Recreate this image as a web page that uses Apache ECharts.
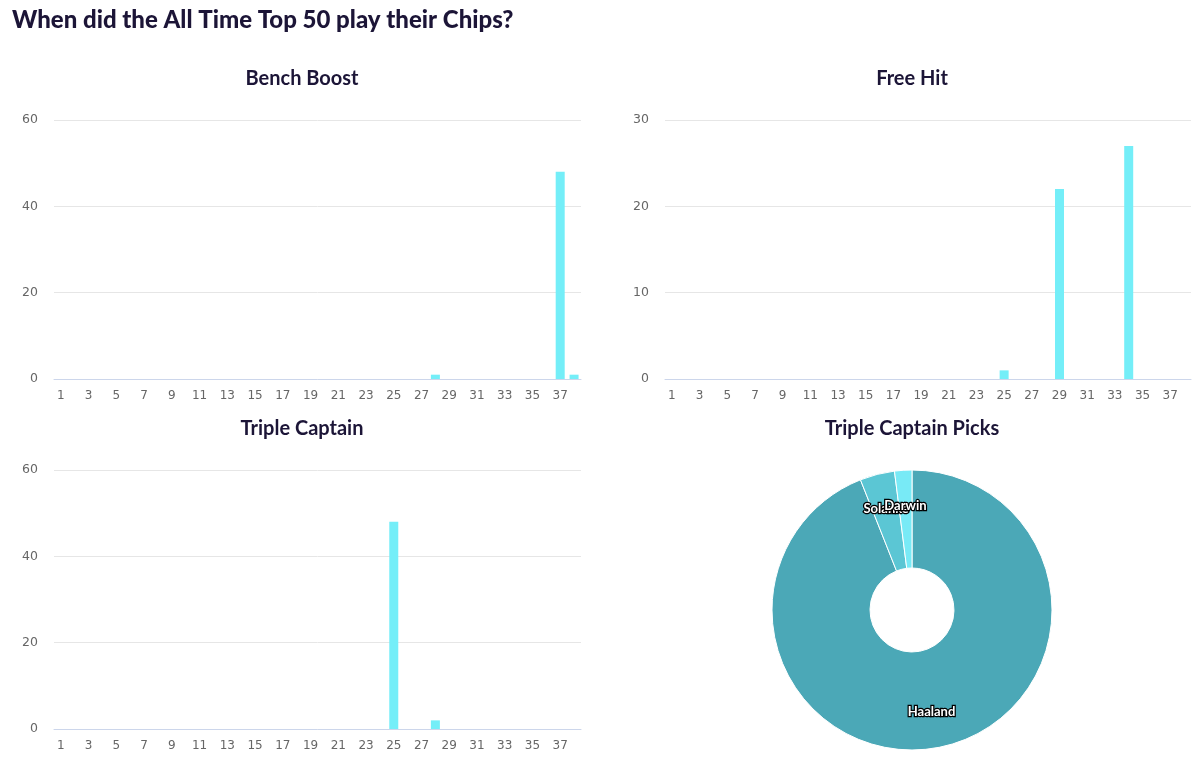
<!DOCTYPE html>
<html><head><meta charset="utf-8">
<script src="https://cdn.jsdelivr.net/npm/echarts@6/dist/echarts.min.js"></script>
<style>html,body{margin:0;padding:0;background:#fff}#c{width:1200px;height:769px}</style>
</head><body><div id="c"></div>
<script>
const gameweeks = Array.from({length: 38}, (_, i) => String(i + 1));
const benchBoost = [0,0,0,0,0,0,0,0,0,0,0,0,0,0,0,0,0,0,0,0,0,0,0,0,0,0,0,1,0,0,0,0,0,0,0,0,48,1];
const freeHit    = [0,0,0,0,0,0,0,0,0,0,0,0,0,0,0,0,0,0,0,0,0,0,0,0,1,0,0,0,22,0,0,0,0,27,0,0,0,0];
const tripleCap  = [0,0,0,0,0,0,0,0,0,0,0,0,0,0,0,0,0,0,0,0,0,0,0,0,48,0,0,2,0,0,0,0,0,0,0,0,0,0];
const tcPlayers = ['Haaland', 'Solanke', 'Darwin'];
const tcPicks   = [47, 2, 1];

const titleFont = 'Lato, "Noto Sans", sans-serif';
const axisFont = '"DejaVu Sans", Verdana, sans-serif';
const grids = [
  {left: 54, top: 120, width: 527, height: 259},
  {left: 665, top: 120, width: 526, height: 259},
  {left: 54, top: 470, width: 527, height: 259}
];
const yMax = [60, 30, 60];
const yInt = [20, 10, 20];
function xAxis(i){return {type:'category', gridIndex:i, data:gameweeks,
  axisLine:{lineStyle:{color:'#ccd6eb'}}, axisTick:{show:false},
  axisLabel:{interval:1, color:'#666', fontFamily:axisFont, fontSize:12, margin:11}};}
function yAxis(i){return {type:'value', gridIndex:i, min:0, max:yMax[i], interval:yInt[i],
  axisLine:{show:false}, axisTick:{show:false},
  splitLine:{lineStyle:{color:'#e6e6e6'}},
  axisLabel:{color:'#666', fontFamily:axisFont, fontSize:12.5, margin:16}};}
function bars(i, data){return {type:'bar', xAxisIndex:i, yAxisIndex:i, data:data, barWidth:9,
  itemStyle:{color:'#74eef8'}};}
const sub = (text, left, top) => ({text, left:left - 5, top, textAlign:'center',
  textStyle:{fontFamily:titleFont, fontSize:20, fontWeight:'bold', color:'#1c1537'}});
const pieData = tcPlayers.map((n, i) => ({name:n, value:tcPicks[i]}));
const chart = echarts.init(document.getElementById('c'));
chart.setOption({
  animation:false,
  title:[
    {text:'When did the All Time Top 50 play their Chips?', left:7, top:3,
      textStyle:{fontFamily:titleFont, fontSize:24, fontWeight:900, color:'#1c1537'}},
    sub('Bench Boost', 302, 64), sub('Free Hit', 912, 64),
    sub('Triple Captain', 302, 414), sub('Triple Captain Picks', 912, 414)
  ],
  grid:grids,
  xAxis:[xAxis(0), xAxis(1), xAxis(2)],
  yAxis:[yAxis(0), yAxis(1), yAxis(2)],
  series:[
    bars(0, benchBoost), bars(1, freeHit), bars(2, tripleCap),
    {type:'pie', center:[912, 610], radius:[42, 140], startAngle:90, clockwise:true,
      data: pieData,
      color:['#4ba8b7', '#5bc6d4', '#78eaf6'],
      itemStyle:{borderColor:'#fff', borderWidth:1},
      label:{show:false}, labelLine:{show:false}},
    {type:'pie', center:[912, 610], radius:[62, 140], startAngle:90, clockwise:true,
      data: pieData, silent:true, avoidLabelOverlap:false,
      itemStyle:{color:'rgba(0,0,0,0)'},
      labelLayout:{hideOverlap:false},
      label:{show:true, position:'inside', formatter:'{b}', color:'#fff',
        fontFamily:titleFont, fontSize:13, fontWeight:'bold',
        textBorderColor:'#000', textBorderWidth:2.5},
      labelLine:{show:false}}
  ]
});
</script></body></html>
